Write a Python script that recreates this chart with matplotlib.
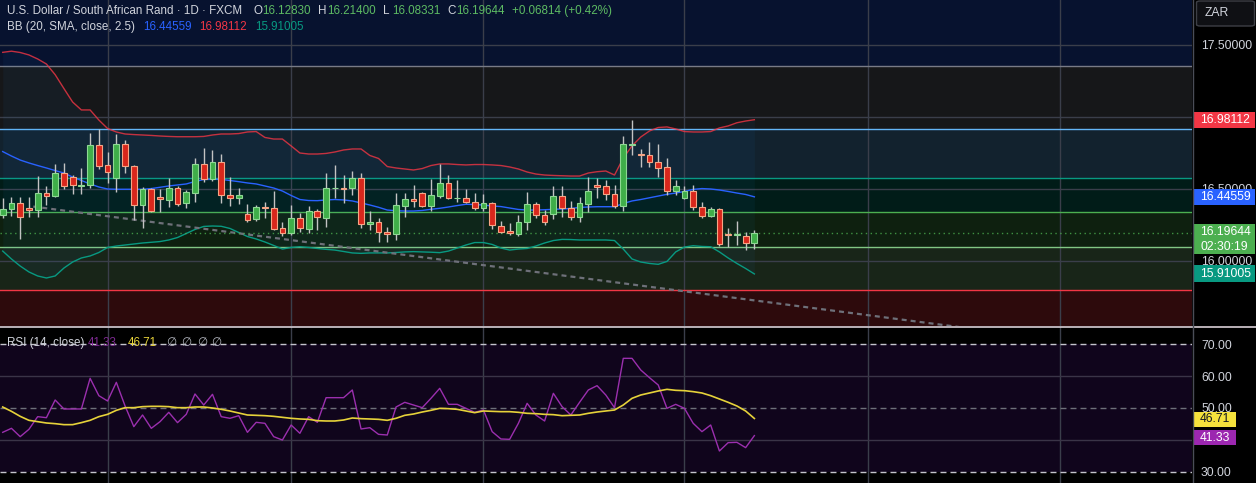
import numpy as np
import matplotlib
matplotlib.use("Agg")
import matplotlib.pyplot as plt
import matplotlib.transforms as mtransforms
from matplotlib.patches import Rectangle, FancyBboxPatch
from matplotlib.lines import Line2D
from matplotlib.ticker import FixedFormatter

plt.rcParams['font.family'] = ['Liberation Sans', 'DejaVu Sans']
plt.rcParams['lines.scale_dashes'] = False

# USD/ZAR daily candles (FXCM)
opens = [16.319, 16.359, 16.400, 16.366, 16.357, 16.470, 16.449, 16.609, 16.581, 16.523,
         16.526, 16.806, 16.667, 16.574, 16.810, 16.662, 16.387, 16.500, 16.442, 16.426,
         16.507, 16.401, 16.475, 16.671, 16.567, 16.685, 16.458, 16.435, 16.324, 16.289,
         16.377, 16.366, 16.227, 16.192, 16.296, 16.220, 16.350, 16.301, 16.505, 16.509,
         16.505, 16.574, 16.255, 16.269, 16.199, 16.185, 16.384, 16.428, 16.470, 16.384,
         16.454, 16.539, 16.435, 16.435, 16.412, 16.370, 16.401, 16.245, 16.208, 16.190,
         16.273, 16.394, 16.319, 16.324, 16.454, 16.370, 16.308, 16.398, 16.528, 16.519,
         16.463, 16.384, 16.806, 16.741, 16.736, 16.685, 16.651, 16.488, 16.440, 16.488,
         16.377, 16.315, 16.359, 16.185, 16.181, 16.176, 16.1283]
highs = [16.435, 16.444, 16.447, 16.444, 16.590, 16.523, 16.674, 16.678, 16.597, 16.648,
         16.887, 16.917, 16.755, 16.882, 16.840, 16.667, 16.516, 16.505, 16.500, 16.574,
         16.523, 16.493, 16.718, 16.782, 16.771, 16.743, 16.586, 16.509, 16.396, 16.389,
         16.407, 16.486, 16.269, 16.389, 16.331, 16.384, 16.361, 16.613, 16.667, 16.597,
         16.625, 16.613, 16.347, 16.296, 16.234, 16.470, 16.470, 16.528, 16.482, 16.569,
         16.671, 16.597, 16.563, 16.500, 16.470, 16.463, 16.412, 16.278, 16.262, 16.319,
         16.482, 16.407, 16.354, 16.523, 16.523, 16.417, 16.447, 16.581, 16.574, 16.563,
         16.528, 16.870, 16.979, 16.778, 16.829, 16.810, 16.713, 16.560, 16.523, 16.528,
         16.407, 16.377, 16.366, 16.227, 16.278, 16.199, 16.2140]
lows = [16.301, 16.315, 16.153, 16.308, 16.303, 16.389, 16.442, 16.500, 16.463, 16.468,
        16.505, 16.639, 16.539, 16.482, 16.613, 16.282, 16.232, 16.343, 16.338, 16.377,
        16.382, 16.370, 16.412, 16.551, 16.558, 16.401, 16.384, 16.394, 16.273, 16.280,
        16.296, 16.215, 16.176, 16.181, 16.204, 16.192, 16.215, 16.238, 16.435, 16.401,
        16.458, 16.227, 16.215, 16.134, 16.134, 16.144, 16.308, 16.377, 16.377, 16.350,
        16.435, 16.431, 16.407, 16.401, 16.354, 16.350, 16.220, 16.192, 16.181, 16.176,
        16.215, 16.296, 16.250, 16.292, 16.308, 16.285, 16.273, 16.338, 16.440, 16.424,
        16.370, 16.347, 16.736, 16.655, 16.655, 16.586, 16.458, 16.458, 16.431, 16.354,
        16.296, 16.308, 16.107, 16.100, 16.111, 16.076, 16.08331]
closes = [16.359, 16.400, 16.303, 16.357, 16.470, 16.449, 16.609, 16.521, 16.526, 16.528,
          16.806, 16.662, 16.620, 16.810, 16.662, 16.387, 16.500, 16.350, 16.428, 16.507,
          16.394, 16.477, 16.671, 16.567, 16.685, 16.456, 16.435, 16.458, 16.287, 16.373,
          16.370, 16.222, 16.192, 16.296, 16.227, 16.350, 16.303, 16.505, 16.509, 16.502,
          16.574, 16.255, 16.271, 16.199, 16.188, 16.389, 16.428, 16.414, 16.384, 16.456,
          16.539, 16.435, 16.440, 16.412, 16.370, 16.401, 16.248, 16.199, 16.192, 16.273,
          16.394, 16.319, 16.273, 16.454, 16.370, 16.308, 16.401, 16.484, 16.516, 16.463,
          16.384, 16.810, 16.813, 16.736, 16.685, 16.648, 16.486, 16.521, 16.488, 16.377,
          16.315, 16.359, 16.118, 16.181, 16.185, 16.1283, 16.19644]

# Bollinger bands (20, SMA, close, 2.5)
bb_upper = [17.449, 17.457, 17.448, 17.431, 17.403, 17.368, 17.294, 17.198, 17.104, 17.049,
            17.049, 16.979, 16.920, 16.896, 16.882, 16.878, 16.875, 16.872, 16.868, 16.865,
            16.863, 16.863, 16.863, 16.865, 16.875, 16.882, 16.882, 16.885, 16.896, 16.899,
            16.858, 16.847, 16.847, 16.799, 16.750, 16.743, 16.743, 16.747, 16.757, 16.771,
            16.778, 16.778, 16.733, 16.712, 16.656, 16.646, 16.639, 16.632, 16.642, 16.663,
            16.674, 16.674, 16.670, 16.667, 16.670, 16.670, 16.667, 16.663, 16.653, 16.639,
            16.618, 16.604, 16.597, 16.594, 16.592, 16.590, 16.590, 16.611, 16.620, 16.625,
            16.597, 16.715, 16.799, 16.861, 16.903, 16.927, 16.931, 16.917, 16.899, 16.896,
            16.896, 16.899, 16.924, 16.938, 16.960, 16.972, 16.98112]
bb_mid = [16.760, 16.729, 16.701, 16.681, 16.663, 16.646, 16.628, 16.611, 16.583, 16.559,
          16.535, 16.514, 16.500, 16.498, 16.498, 16.498, 16.498, 16.503, 16.512, 16.521,
          16.528, 16.535, 16.552, 16.566, 16.567, 16.567, 16.559, 16.551, 16.542, 16.535,
          16.521, 16.507, 16.486, 16.455, 16.427, 16.420, 16.419, 16.424, 16.427, 16.424,
          16.417, 16.403, 16.389, 16.373, 16.354, 16.349, 16.347, 16.347, 16.351, 16.359,
          16.366, 16.375, 16.385, 16.394, 16.392, 16.389, 16.382, 16.378, 16.368, 16.358,
          16.354, 16.354, 16.356, 16.359, 16.361, 16.365, 16.372, 16.375, 16.377, 16.377,
          16.377, 16.399, 16.417, 16.427, 16.439, 16.451, 16.463, 16.472, 16.483, 16.497,
          16.503, 16.500, 16.493, 16.483, 16.472, 16.462, 16.44559]
bb_lower = [16.069, 16.014, 15.965, 15.924, 15.896, 15.882, 15.896, 15.951, 15.993, 16.021,
            16.035, 16.059, 16.094, 16.104, 16.111, 16.118, 16.125, 16.130, 16.135, 16.146,
            16.163, 16.191, 16.219, 16.240, 16.243, 16.241, 16.226, 16.198, 16.170, 16.153,
            16.132, 16.108, 16.083, 16.094, 16.099, 16.094, 16.087, 16.081, 16.076, 16.066,
            16.056, 16.053, 16.056, 16.056, 16.056, 16.059, 16.063, 16.065, 16.063, 16.061,
            16.058, 16.069, 16.090, 16.111, 16.128, 16.128, 16.115, 16.090, 16.076, 16.083,
            16.087, 16.104, 16.125, 16.142, 16.150, 16.149, 16.146, 16.146, 16.146, 16.146,
            16.142, 16.083, 16.014, 15.993, 15.983, 15.977, 15.997, 16.063, 16.097, 16.106,
            16.101, 16.099, 16.063, 16.021, 15.983, 15.948, 15.91005]

# RSI (14, close) and its moving average
rsi = [42.36, 43.62, 41.00, 43.30, 47.28, 46.96, 52.51, 49.69, 49.69, 49.69,
       59.31, 53.87, 52.20, 58.06, 50.63, 44.14, 47.80, 43.62, 45.71, 48.64,
       45.40, 48.01, 54.40, 50.94, 54.29, 47.28, 46.76, 47.59, 42.36, 45.50,
       45.19, 41.00, 39.95, 44.66, 42.05, 47.28, 45.50, 53.24, 53.24, 53.24,
       55.65, 43.41, 43.82, 41.73, 41.52, 50.31, 51.78, 50.94, 50.10, 53.04,
       56.17, 51.15, 51.15, 49.89, 48.64, 49.37, 42.57, 40.27, 40.16, 45.19,
       51.47, 47.80, 45.92, 54.60, 50.42, 47.80, 51.78, 55.65, 57.01, 54.08,
       50.10, 65.59, 65.59, 61.93, 59.52, 57.22, 49.89, 51.15, 49.89, 45.19,
       42.57, 44.66, 36.50, 39.12, 39.22, 37.55, 41.33]
rsi_ma = [50.31, 48.95, 47.38, 46.13, 45.71, 45.29, 45.08, 44.77, 44.77, 45.40,
          46.13, 47.28, 48.01, 49.27, 50.10, 50.10, 50.42, 50.52, 50.52, 50.42,
          50.10, 50.10, 50.31, 50.31, 50.00, 49.58, 49.06, 48.43, 47.80, 47.70,
          47.59, 47.38, 47.07, 46.76, 46.55, 46.44, 46.02, 45.92, 45.92, 46.23,
          46.86, 46.65, 46.55, 46.44, 46.13, 46.76, 47.70, 48.11, 48.74, 49.27,
          49.89, 49.79, 49.58, 49.06, 48.53, 49.06, 48.95, 48.85, 48.85, 48.64,
          48.33, 48.22, 48.01, 47.91, 47.59, 47.70, 47.80, 48.33, 48.74, 49.06,
          49.37, 50.94, 53.04, 54.08, 54.71, 55.34, 55.86, 55.55, 55.44, 55.13,
          54.71, 53.87, 52.83, 51.78, 50.63, 49.06, 46.71]

# fib retracement drawing
fib_low, fib_high = 15.322, 17.354
fib_levels = [0, 0.236, 0.382, 0.5, 0.618, 0.786, 1, 1.618]
fib_colors = ['#787b86', '#f23645', '#81c784', '#4caf50', '#089981', '#64b5f6', '#787b86', '#2962ff']

# trend line (start/end: bar index, price)
trend = [(3.5, 16.378), (112, 15.521)]
month_bars = [12, 33, 55, 78, 99, 121]

price_ticks = [16.0, 16.5, 17.0, 17.5]
price_ticklabels = ['16.00000', '16.50000', '', '17.50000']   # 17.0 sits under the BB label
rsi_ticks = [30, 40, 50, 60, 70]
rsi_ticklabels = ['30.00', '', '50.00', '60.00', '70.00']      # 40 sits under the RSI label

W, H = 1256, 483
fig = plt.figure(figsize=(W / 100, H / 100), dpi=100, facecolor='black')
ax = fig.add_axes([0, 157 / H, 1192 / W, 326 / H])
ax2 = fig.add_axes([0, 0, 1192 / W, 156 / H])

o = np.array(opens); h = np.array(highs); l = np.array(lows); c = np.array(closes)
idx = np.arange(len(c))

for a in (ax, ax2):
    a.set_facecolor('black')
    for s in a.spines.values():
        s.set_visible(False)
    a.set_xlim(-0.31, 136.07)
    a.set_xticks(month_bars)
    a.tick_params(axis='x', length=0, labelbottom=False)
    a.yaxis.tick_right()
    a.tick_params(axis='y', length=0, pad=6.5, labelcolor='#d1d4dc', labelsize=8.7)
    a.set_axisbelow(True)

# ---- price pane ----
ax.set_ylim(15.5486, 17.8125)
ax.set_yticks(price_ticks)
ax.yaxis.set_major_formatter(FixedFormatter(price_ticklabels))
ax.grid(True, color='#3a3e4a', lw=1)

fib_prices = fib_low + (fib_high - fib_low) * np.array(fib_levels)
for k in range(1, len(fib_levels)):
    ax.axhspan(fib_prices[k - 1], fib_prices[k], color=fib_colors[k], alpha=0.19, lw=0, zorder=0.1)
for p, col in zip(fib_prices, fib_colors):
    ax.axhline(p, color=col, lw=1, zorder=1)

ax.fill_between(idx, bb_lower, bb_upper, color='#2196f3', alpha=0.05, lw=0, zorder=1)
ax.plot(idx, bb_upper, color='#f23645', lw=1, alpha=0.8, zorder=2)
ax.plot(idx, bb_mid, color='#2962ff', lw=1, zorder=2)
ax.plot(idx, bb_lower, color='#089981', lw=1, zorder=2)

ax.plot([trend[0][0], trend[1][0]], [trend[0][1], trend[1][1]], color='#6e7079',
        lw=1.6, dashes=(3.6, 2.9), zorder=2)
ax.axhline(closes[-1], color='#4caf50', lw=1, dashes=(1, 2.5), alpha=0.8, zorder=2)

up = c >= o
body_lo = np.minimum(o, c)
body_h = np.maximum(np.abs(c - o), 0.004)
ax.vlines(idx, l, h, color='#c3c3c3', lw=1, zorder=3)
ax.bar(idx[up], body_h[up], bottom=body_lo[up], width=0.66, color='#3fae49',
       edgecolor='#8ed894', lw=0.8, zorder=4)
ax.bar(idx[~up], body_h[~up], bottom=body_lo[~up], width=0.66, color='#d8271c',
       edgecolor='#f6a585', lw=0.8, zorder=4)

# price scale labels
tr = mtransforms.blended_transform_factory(ax.transAxes, ax.transData)
px = 1 / 144.0
def price_box(col, y0, y1, lines):
    ax.add_patch(Rectangle((1.0005, y0), 62 / 1192, y1 - y0, transform=tr, facecolor=col,
                           lw=0, clip_on=False, zorder=5))
    for t, yy in lines:
        ax.text(1 + 8 / 1192, yy, t, transform=tr, color='white', fontsize=8.7,
                va='center', ha='left', clip_on=False, zorder=6)

for val, col, half in ((bb_upper[-1], '#f23645', 8), (bb_mid[-1], '#2962ff', 8),
                       (bb_lower[-1], '#089981', 8.5)):
    price_box(col, val - half * px, val + half * px, [('%.5f' % val, val)])
price_box('#4caf50', closes[-1] - 21.5 * px, closes[-1] + 8.5 * px,
          [('%.5f' % closes[-1], closes[-1] + 0.5 * px), ('02:30:19', closes[-1] - 14.5 * px)])

# ---- RSI pane ----
ax2.set_ylim(26.45, 75.43)
ax2.set_yticks(rsi_ticks)
ax2.yaxis.set_major_formatter(FixedFormatter(rsi_ticklabels))
ax2.grid(True, axis='x', color='#3a3e4a', lw=1)
ax2.axhspan(30, 70, color='#10051c', lw=0, zorder=0.1)
for lv in (60, 40):
    ax2.axhline(lv, color='#3a3447', lw=1, zorder=1)
ax2.axhline(70, color='#c4c4cc', lw=1, dashes=(4.3, 2.9), zorder=1)
ax2.axhline(50, color='#6e7079', lw=1, dashes=(4.3, 2.9), zorder=1)
ax2.axhline(30, color='#c4c4cc', lw=1, dashes=(4.3, 2.9), zorder=1)
ax2.plot(idx, rsi, color='#9b2fae', lw=1, zorder=3)
ax2.plot(idx, rsi_ma, color='#e6d23a', lw=1.2, zorder=3)

tr2 = mtransforms.blended_transform_factory(ax2.transAxes, ax2.transData)
rp = 1 / 3.185
for val, yc, col, tcol in ((rsi_ma[-1], rsi_ma[-1] - 0.3, '#f5e23c', '#131722'),
                           (rsi[-1], rsi[-1] - 0.6, '#9c27b0', 'white')):
    ax2.add_patch(Rectangle((1.0005, yc - 7.8 * rp), 43.5 / 1192, 15.6 * rp, transform=tr2,
                            facecolor=col, lw=0, clip_on=False, zorder=5))
    ax2.text(1 + 8 / 1192, yc, '%.2f' % val, transform=tr2, color=tcol, fontsize=8.7,
             va='center', ha='left', clip_on=False, zorder=6)

# ---- frame pieces ----
fig.add_artist(Line2D([0, 1], [1 - 326.6 / H] * 2, color='#d9cfd6', lw=1.2))
fig.add_artist(Line2D([1192.5 / W] * 2, [0, 1], color='#4a4d57', lw=1))
fig.add_artist(FancyBboxPatch((1196.5 / W, 1 - 26 / H), 58 / W, 25 / H,
                              boxstyle='round,pad=0,rounding_size=0.003',
                              transform=fig.transFigure, facecolor='#0f1014',
                              edgecolor='#3d3f46', lw=1))

def ftxt(x, y, s, col, size=8.4, **kw):
    fig.text(x / W, 1 - y / H, s, color=col, fontsize=size, va='center', ha='left', **kw)

ftxt(1205, 13.5, 'ZAR', '#d1d4dc', 8.7)

grey = '#d1d4dc'
green = '#5dbb63'
ftxt(7, 11, 'U.S. Dollar / South African Rand · 1D · FXCM', grey)
for x0, lab, val in ((253, 'O', opens[-1]), (318, 'H', highs[-1]),
                     (383, 'L', lows[-1]), (447, 'C', closes[-1])):
    ftxt(x0, 11, lab, grey)
    ftxt(x0 + 9, 11, '%.5f' % val, green)
chg = closes[-1] - closes[-2]
ftxt(512, 11, '%+.5f (%+.2f%%)' % (chg, chg / closes[-2] * 100), green)

ftxt(7, 27, 'BB (20, SMA, close, 2.5)', grey)
ftxt(143, 27, '%.5f' % bb_mid[-1], '#2962ff')
ftxt(199, 27, '%.5f' % bb_upper[-1], '#f23645')
ftxt(255, 27, '%.5f' % bb_lower[-1], '#089981')

ftxt(7, 343, 'RSI (14, close)', grey)
ftxt(88, 343, '%.2f' % rsi[-1], '#7e2a92')
ftxt(128, 343, '%.2f' % rsi_ma[-1], '#e6d23a')
for x0 in (166, 181, 197, 211):
    ftxt(x0, 343, '∅', '#b2b5be', family=['DejaVu Sans'])

fig.savefig('out.png', dpi=100, facecolor='black')
